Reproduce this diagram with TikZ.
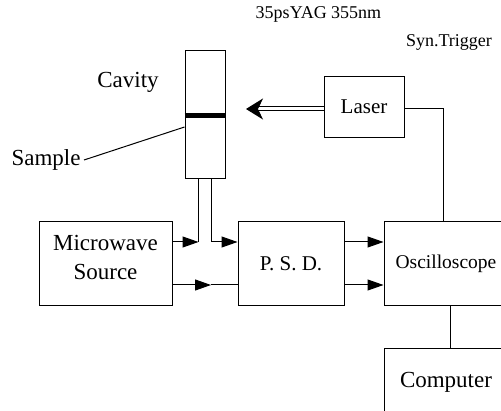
\documentclass[tikz,border=0pt]{standalone}
\usepackage{fontspec}
\setmainfont{Liberation Serif}
\usetikzlibrary{arrows.meta}

\tikzset{box/.style={draw, line width=1pt, inner sep=0pt},
  wire/.style={line width=1pt},
  sig/.style={line width=1pt, -{Triangle[length=16pt,width=11pt]}},
  big/.style={font=\fontsize{23}{29}\selectfont},
  mid/.style={font=\fontsize{21}{25}\selectfont},
  tiny/.style={font=\fontsize{18}{22}\selectfont}}

\begin{document}
\begin{tikzpicture}[x=1pt,y=-1pt]
\useasboundingbox (0,0) rectangle (501,411);
\clip (0,0) rectangle (501,411);
% boxes
\node[box, minimum width=133pt, minimum height=84pt] (mw) at (105.5,264) {};
\node[big, align=center] (mwtxt) at ([yshift=6pt]mw.center) {Microwave\\Source};
\node[box, mid, minimum width=106pt, minimum height=84pt] (psd) at (291,264) {P. S. D.};
\node[box, font=\fontsize{19.5}{23}\selectfont, minimum width=124pt, minimum height=84pt] (osc) at (446,264) {Oscilloscope};
\node[box, big, minimum width=124pt, minimum height=66pt] (comp) at (446,382) {Computer};
\node[box, mid, minimum width=80pt, minimum height=61pt] (laser) at (364,107) {Laser};
\node[box, minimum width=40pt, minimum height=128pt] (cav) at (205,115) {};
\draw[line width=5pt] ([yshift=-1pt]cav.west) -- ([yshift=-1pt]cav.east);
% labels
\node[big] (cavlbl) at (128,82) {Cavity};
\node[big] (smp) at (46,160) {Sample};
\node[tiny] (yag) at (318.5,14) {35psYAG 355nm};
\node[tiny] (syn) at (449,42) {Syn.Trigger};
\draw[wire] (smp.east) -- ([yshift=-12pt]cav.west);
% laser beam
\coordinate (beam) at (246,109);
\draw[line width=1pt, double distance=3pt, -{Stealth[length=17pt,width=21pt,inset=5pt]}] ([yshift=-2pt]laser.west) -- (beam);
\coordinate (trig) at (443,0);
\draw[wire] ([yshift=-2pt]laser.east) -| (trig |- osc.north);
% microwave lines
\coordinate (j1) at (198.5,242);
\coordinate (j2) at (211.5,242);
\coordinate (m1) at (211,285);
\draw[sig] ([yshift=22pt]mw.east) -- (j1);
\draw[wire] (j1) -- (j1 |- cav.south);
\draw[sig] (j2 |- cav.south) |- ([yshift=22pt]psd.west);
\draw[sig] ([yshift=-21pt]mw.east) -- (m1);
\draw[wire] (m1) -- ([yshift=-21pt]psd.west);
\draw[sig] ([yshift=22pt]psd.east) -- ([yshift=22pt]osc.west);
\draw[sig] ([yshift=-21pt]psd.east) -- ([yshift=-21pt]osc.west);
\draw[wire] ([xshift=4pt]osc.south) -- ([xshift=4pt]comp.north);
\end{tikzpicture}
\end{document}
